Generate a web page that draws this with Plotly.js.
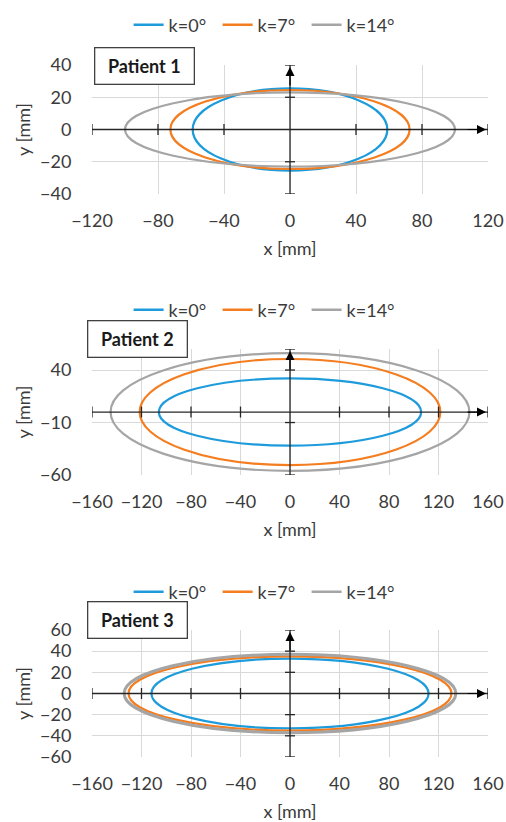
<!DOCTYPE html>
<html><head><meta charset="utf-8">
<script src="https://cdn.plot.ly/plotly-3.0.1.min.js"></script>
<style>html,body{margin:0;padding:0;background:#fff}#chart{width:506px;height:822px}</style>
</head><body><div id="chart"></div>
<script>
// ---- data ----
const seriesNames = ['k=0°', 'k=7°', 'k=14°'];
const seriesColors = ['#1E9BDB', '#F47D20', '#A5A5A5'];
const patients = ['Patient 1', 'Patient 2', 'Patient 3'];

// semi-axes of each contour [mm] (half width along x, half height along y)
const p1SemiX = [59, 72.5, 100];
const p1SemiY = [25.5, 24.5, 23];
const p2SemiX = [106, 121.5, 145];
const p2SemiY = [32, 50.5, 56];
const p3SemiX = [112, 130.5, 134];
const p3SemiY = [33, 35, 37];

// axis ticks
const p1XTicks = [-120, -80, -40, 0, 40, 80, 120];
const p1YTicks = [-40, -20, 0, 20, 40];
const p2XTicks = [-160, -120, -80, -40, 0, 40, 80, 120, 160];
const p2YTicks = [-60, -10, 40];
const p2YRange = [-60, 60];
const p3XTicks = [-160, -120, -80, -40, 0, 40, 80, 120, 160];
const p3YTicks = [-60, -40, -20, 0, 20, 40, 60];

// ---- layout building ----
const FONT = 'Lato, "Open Sans", "Noto Sans", sans-serif';
const TXT = '#3b3b3b';
const AXC = '#262626';
const FS = 18;

const panels = [
  {semiX: p1SemiX, semiY: p1SemiY, xTicks: p1XTicks, yTicks: p1YTicks,
   xRange: [p1XTicks[0], p1XTicks[p1XTicks.length-1]], yRange: [p1YTicks[0], p1YTicks[p1YTicks.length-1]],
   yCross: [-40, -20, 20, 40],
   dom: [0.7640, 0.9209], legendY: 0.9696, boxX: 0.2846, boxY: 0.9191},
  {semiX: p2SemiX, semiY: p2SemiY, xTicks: p2XTicks, yTicks: p2YTicks,
   xRange: [p2XTicks[0], p2XTicks[p2XTicks.length-1]], yRange: p2YRange,
   yCross: [-60, -10, 40, 60],
   dom: [0.4221, 0.5754], legendY: 0.6229, boxX: 0.2708, boxY: 0.5876},
  {semiX: p3SemiX, semiY: p3SemiY, xTicks: p3XTicks, yTicks: p3YTicks,
   xRange: [p3XTicks[0], p3XTicks[p3XTicks.length-1]], yRange: [p3YTicks[0], p3YTicks[p3YTicks.length-1]],
   yCross: [-60, -40, -20, 20, 40, 60],
   dom: [0.0791, 0.2336], legendY: 0.2798, boxX: 0.2708, boxY: 0.2454}
];

const traces = [];
const shapes = [];
const annotations = [];
const layout = {
  width: 506, height: 822,
  margin: {l: 0, r: 0, t: 0, b: 0},
  paper_bgcolor: '#fff', plot_bgcolor: '#fff',
  font: {family: FONT, size: FS, color: TXT},
  showlegend: true
};

panels.forEach((p, k) => {
  const n = k === 0 ? '' : String(k + 1);
  const xa = 'x' + n, ya = 'y' + n;
  const legName = 'legend' + n;

  layout['xaxis' + n] = {
    domain: [92/506, 488/506], anchor: ya, range: p.xRange,
    tickmode: 'array', tickvals: p.xTicks, ticktext: p.xTicks.map(v => v < 0 ? '\u2212' + Math.abs(v) : String(v)),
    showgrid: true, gridcolor: '#D9D9D9', gridwidth: 1, zeroline: false, showline: false,
    ticks: 'outside', ticklen: 10, tickcolor: 'rgba(0,0,0,0)',
    tickfont: {size: FS, color: TXT}, fixedrange: true,
    title: {text: 'x [mm]', font: {size: FS, color: TXT}, standoff: 12}
  };
  layout['yaxis' + n] = {
    domain: p.dom, anchor: xa, range: p.yRange,
    tickmode: 'array', tickvals: p.yTicks, ticktext: p.yTicks.map(v => v < 0 ? '\u2212' + Math.abs(v) : String(v)),
    showgrid: true, gridcolor: '#D9D9D9', gridwidth: 1, zeroline: false, showline: false,
    ticks: 'outside', ticklen: 16, tickcolor: 'rgba(0,0,0,0)',
    tickfont: {size: FS, color: TXT}, fixedrange: true,
    title: {text: 'y [mm]', font: {size: FS, color: TXT}, standoff: 4}
  };
  layout[legName] = {
    orientation: 'h', x: 0.518, xanchor: 'center', y: p.legendY, yanchor: 'middle',
    font: {size: FS, color: TXT, family: FONT}, bgcolor: 'rgba(0,0,0,0)',
    entrywidth: 44, entrywidthmode: 'pixels',
    itemclick: false, itemdoubleclick: false
  };

  // legend entries
  seriesNames.forEach((nm, i) => {
    traces.push({type: 'scatter', mode: 'lines', x: [null], y: [null], name: nm,
      line: {color: seriesColors[i], width: 2.5}, xaxis: xa, yaxis: ya,
      legend: legName, hoverinfo: 'skip'});
  });

  // contours (ellipses in data coordinates)
  seriesNames.forEach((nm, i) => {
    shapes.push({type: 'circle', xref: xa, yref: ya,
      x0: -p.semiX[i], x1: p.semiX[i], y0: -p.semiY[i], y1: p.semiY[i],
      line: {color: seriesColors[i], width: k === 2 && i === 2 ? 3 : 2.2}, fillcolor: 'rgba(0,0,0,0)', layer: 'above'});
  });

  // crossing axes through the origin
  shapes.push({type: 'line', xref: xa, yref: ya, x0: p.xRange[0], x1: p.xRange[1], y0: 0, y1: 0,
    line: {color: AXC, width: 1.3}, layer: 'above'});
  shapes.push({type: 'line', xref: xa, yref: ya, x0: 0, x1: 0, y0: p.yRange[0], y1: p.yRange[1],
    line: {color: AXC, width: 1.3}, layer: 'above'});
  // tick marks on the crossing axes
  p.xTicks.filter(v => v !== 0).forEach(v => {
    shapes.push({type: 'line', xref: xa, yref: ya, x0: v, x1: v,
      ysizemode: 'pixel', yanchor: 0, y0: -5.5, y1: 5.5,
      line: {color: AXC, width: 1.3}, layer: 'above'});
  });
  p.yCross.forEach(v => {
    shapes.push({type: 'line', xref: xa, yref: ya, y0: v, y1: v,
      xsizemode: 'pixel', xanchor: 0, x0: -5, x1: 5,
      line: {color: AXC, width: 1.3}, layer: 'above'});
  });
  // arrow heads
  annotations.push({xref: xa, yref: ya, x: p.xRange[1], y: 0, ax: -22, ay: 0, text: '',
    showarrow: true, arrowhead: 2, arrowsize: 1.5, arrowwidth: 1.2, arrowcolor: '#000', standoff: 2});
  annotations.push({xref: xa, yref: ya, x: 0, y: p.yRange[1], ax: 0, ay: 22, text: '',
    showarrow: true, arrowhead: 2, arrowsize: 1.5, arrowwidth: 1.2, arrowcolor: '#000', standoff: 2});
  // patient label box
  annotations.push({xref: 'paper', yref: 'paper', x: p.boxX, y: p.boxY, xanchor: 'center', yanchor: 'middle',
    text: '<b>' + patients[k] + '</b>', showarrow: false, font: {size: 18, color: '#1a1a1a', family: FONT},
    bgcolor: '#fff', bordercolor: '#404040', borderwidth: 1.3, borderpad: 2, width: 94, height: 31});
});

layout.shapes = shapes;
layout.annotations = annotations;

Plotly.newPlot('chart', traces, layout, {staticPlot: true, displayModeBar: false});
</script>
</body></html>
